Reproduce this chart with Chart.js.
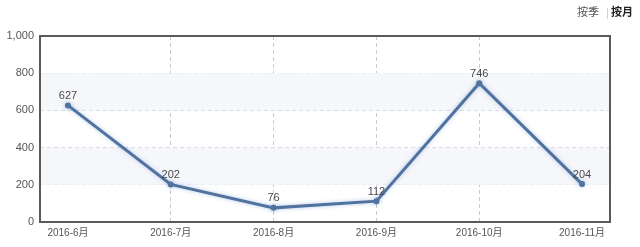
<!DOCTYPE html>
<html>
<head>
<meta charset="utf-8">
<script src="https://cdn.jsdelivr.net/npm/chart.js@4/dist/chart.umd.min.js"></script>
<style>
  html, body { margin: 0; padding: 0; background: #fff; }
  #wrap { width: 640px; height: 247px; position: relative; }
</style>
</head>
<body>
<div id="wrap"><canvas id="lineChart"></canvas></div>
<script>
// data
const months = ["2016-6月", "2016-7月", "2016-8月", "2016-9月", "2016-10月", "2016-11月"];
const counts = [627, 202, 76, 112, 746, 204];
const yTicks = [0, 200, 400, 600, 800, 1000];
const bands = [[600, 800], [200, 400]];

const FONT = '"Liberation Sans", "Noto Sans CJK SC", sans-serif';
const lineColor = "#4f729e";

// shaded bands + frame round the plot area
const framePlugin = {
  id: "frame",
  beforeDatasetsDraw(chart) {
    const { ctx, chartArea: a, scales } = chart;
    ctx.save();
    ctx.fillStyle = "#f6f7fb";
    bands.forEach(([lo, hi]) => {
      const y1 = scales.y.getPixelForValue(hi);
      const y2 = scales.y.getPixelForValue(lo);
      ctx.fillRect(a.left, y1, a.right - a.left, y2 - y1);
    });
    ctx.restore();
  },
  afterDraw(chart) {
    const { ctx, chartArea: a } = chart;
    ctx.save();
    ctx.strokeStyle = "#5a5a5a";
    ctx.lineWidth = 2;
    ctx.strokeRect(a.left, a.top, a.right - a.left, a.bottom - a.top);

    // switch at the top right
    ctx.textBaseline = "middle";
    ctx.font = "11px " + FONT;
    ctx.fillStyle = "#555";
    ctx.fillText("按季", 577, 13);
    ctx.fillStyle = "#d0d0d0";
    ctx.fillRect(607, 8, 1, 11);
    ctx.font = "bold 11px " + FONT;
    ctx.fillStyle = "#222";
    ctx.fillText("按月", 611, 13);
    ctx.restore();
  }
};

// glow under the line, value labels above points
const labelPlugin = {
  id: "labels",
  beforeDatasetDraw(chart) {
    const ctx = chart.ctx;
    ctx.save();
    ctx.shadowColor = "rgba(110,150,210,0.5)";
    ctx.shadowBlur = 4;
  },
  afterDatasetDraw(chart) {
    chart.ctx.restore();
  },
  afterDatasetsDraw(chart) {
    const { ctx } = chart;
    const meta = chart.getDatasetMeta(0);
    ctx.save();
    ctx.font = "11px " + FONT;
    ctx.fillStyle = "#4a4a4a";
    ctx.textAlign = "center";
    ctx.textBaseline = "bottom";
    meta.data.forEach((pt, i) => {
      ctx.fillText(String(counts[i]), pt.x, pt.y - 4);
    });
    ctx.restore();
  }
};

const ctx = document.getElementById("lineChart").getContext("2d");
const myLineChart = new Chart(ctx, {
  type: "line",
  data: {
    datasets: [
      {
        data: months.map((m, i) => ({ x: i, y: counts[i] })),
        borderColor: lineColor,
        backgroundColor: lineColor,
        borderWidth: 3,
        pointRadius: 3,
        pointBorderWidth: 0,
        fill: false,
        tension: 0
      }
    ]
  },
  options: {
    responsive: true,
    maintainAspectRatio: false,
    animation: false,
    layout: { padding: { top: 36, right: 30, left: 0, bottom: 0 } },
    plugins: {
      legend: { display: false },
      tooltip: { enabled: false }
    },
    scales: {
      x: {
        type: "linear",
        min: -0.272,
        max: 5.272,
        afterBuildTicks(axis) {
          axis.ticks = months.map((m, i) => ({ value: i }));
        },
        afterFit(axis) { axis.height = 25; },
        ticks: {
          autoSkip: false,
          maxRotation: 0,
          padding: 5,
          color: "#555",
          font: { family: FONT, size: 10 },
          callback: (v) => months[v]
        },
        grid: {
          drawTicks: false,
          color: (c) => (c.tick && (c.tick.value === 0 || c.tick.value === months.length - 1)) ? "rgba(0,0,0,0)" : "#c5cad4"
        },
        border: { display: false, dash: [4, 3] }
      },
      y: {
        min: 0,
        max: 1000,
        afterBuildTicks(axis) {
          axis.ticks = yTicks.map((v) => ({ value: v }));
        },
        afterFit(axis) { axis.width = 40; },
        ticks: {
          padding: 6,
          color: "#555",
          font: { family: FONT, size: 11 }
        },
        grid: { drawTicks: false, color: "#c5cad4" },
        border: { display: false, dash: [4, 3] }
      }
    }
  },
  plugins: [framePlugin, labelPlugin]
});
</script>
</body>
</html>
